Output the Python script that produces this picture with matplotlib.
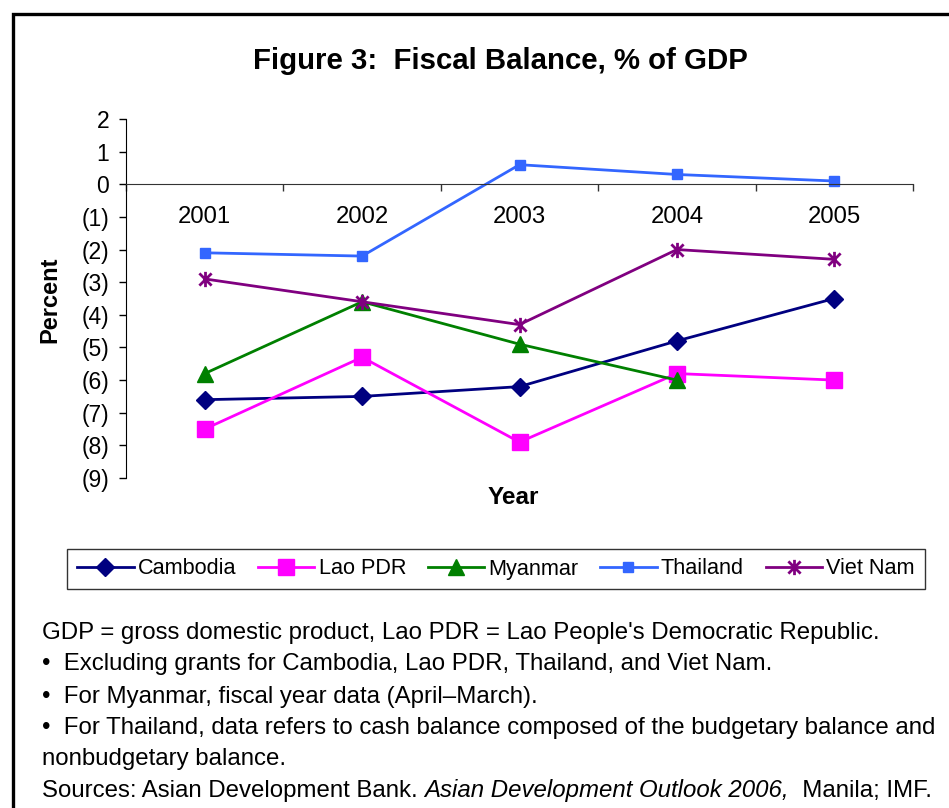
import matplotlib
matplotlib.use("Agg")
import matplotlib.pyplot as plt
from matplotlib.lines import Line2D
from matplotlib.path import Path

plt.rcParams['font.family'] = ['Liberation Sans', 'DejaVu Sans']

years = ["2001", "2002", "2003", "2004", "2005"]
cambodia = [-6.6, -6.5, -6.2, -4.8, -3.5]
lao_pdr = [-7.5, -5.3, -7.9, -5.8, -6.0]
myanmar = [-5.8, -3.6, -4.9, -6.0]
thailand = [-2.1, -2.2, 0.6, 0.3, 0.1]
viet_nam = [-2.9, -3.6, -4.3, -2.0, -2.3]
y_ticks = list(range(-9, 3))
y_tick_labels = ["(9)", "(8)", "(7)", "(6)", "(5)", "(4)", "(3)", "(2)", "(1)", "0", "1", "2"]

W, H = 949, 808
fig = plt.figure(figsize=(W / 100, H / 100), dpi=100)

def fx(px):
    return px / W

def fy(py):
    return 1 - py / H

ax = fig.add_axes([fx(126), fy(478), fx(913) - fx(126), fy(119) - fy(478)])

star = Path([(0, -1), (0, 1), (-0.8, -0.8), (0.8, 0.8), (-0.8, 0.8), (0.8, -0.8)],
            [Path.MOVETO, Path.LINETO, Path.MOVETO, Path.LINETO, Path.MOVETO, Path.LINETO])

xs = list(range(len(years)))
ax.plot(xs, cambodia, color='#000080', lw=2.0, marker='D', ms=9, label='Cambodia')
ax.plot(xs, lao_pdr, color='#FF00FF', lw=2.0, marker='s', ms=11, label='Lao PDR')
ax.plot(xs[:len(myanmar)], myanmar, color='#008000', lw=2.0, marker='^', ms=11.5, label='Myanmar')
ax.plot(xs, thailand, color='#3366FF', lw=2.0, marker='s', ms=7, label='Thailand')
ax.plot(xs, viet_nam, color='#800080', lw=2.0, marker=star, ms=11, mew=2.0, label='Viet Nam')

ax.set_xlim(-0.5, len(years) - 0.5)
ax.set_ylim(-9, 2)
ax.spines['top'].set_visible(False)
ax.spines['right'].set_visible(False)
ax.spines['bottom'].set_position(('data', 0))
ax.spines['bottom'].set_color('#333333')
ax.spines['left'].set_color('black')

ax.set_yticks(y_ticks)
ax.set_yticklabels(y_tick_labels, fontsize=16.5)
ax.tick_params(axis='y', direction='out', length=5, width=1, pad=7)

ax.set_xticks([i - 0.5 for i in range(len(years) + 1)])
ax.set_xticklabels([])
ax.tick_params(axis='x', which='major', direction='out', length=5, width=1, color='#333333')
ax.set_xticks(xs, minor=True)
ax.set_xticklabels(years, minor=True, fontsize=17.2)
ax.tick_params(axis='x', which='minor', length=0, pad=16)

fig.text(fx(500), fy(61), "Figure 3:  Fiscal Balance, % of GDP", ha='center', va='center',
         fontsize=21.2, fontweight='bold')
fig.text(fx(50), fy(300), "Percent", ha='center', va='center', rotation=90,
         fontsize=17, fontweight='bold')
fig.text(fx(513), fy(497), "Year", ha='center', va='center', fontsize=17.5, fontweight='bold')

leg = fig.legend(loc='center', bbox_to_anchor=(fx(496), fy(569)), ncol=5, fontsize=15.6,
                 frameon=True, fancybox=False, edgecolor='black', handlelength=2.6,
                 handletextpad=0.2, columnspacing=1.0, borderpad=0.45)
leg.get_frame().set_linewidth(1.0)

fs = 17.3
fig.text(fx(42), fy(633), "GDP = gross domestic product, Lao PDR = Lao People's Democratic Republic.",
         fontsize=fs, va='center')
fig.text(fx(42), fy(664), "\u2022  Excluding grants for Cambodia, Lao PDR, Thailand, and Viet Nam.",
         fontsize=fs, va='center')
fig.text(fx(42), fy(697), "\u2022  For Myanmar, fiscal year data (April\u2013March).",
         fontsize=fs, va='center')
fig.text(fx(42), fy(728), "\u2022  For Thailand, data refers to cash balance composed of the budgetary balance and",
         fontsize=fs, va='center')
fig.text(fx(42), fy(759), "nonbudgetary balance.", fontsize=fs, va='center')

renderer = fig.canvas.get_renderer()
t1 = fig.text(fx(42), fy(791), "Sources: Asian Development Bank. ", fontsize=fs, va='center')
bb = t1.get_window_extent(renderer)
t2 = fig.text(bb.x1 / W, fy(791), "Asian Development Outlook 2006,", fontsize=fs, va='center', style='italic')
bb2 = t2.get_window_extent(renderer)
fig.text(bb2.x1 / W, fy(791), "  Manila; IMF.", fontsize=fs, va='center')

fig.add_artist(Line2D([fx(13), fx(13), 1.01], [-0.01, fy(14), fy(14)], color='black', lw=2.4,
                      transform=fig.transFigure, solid_joinstyle='miter'))

fig.savefig("out.png", dpi=100)
